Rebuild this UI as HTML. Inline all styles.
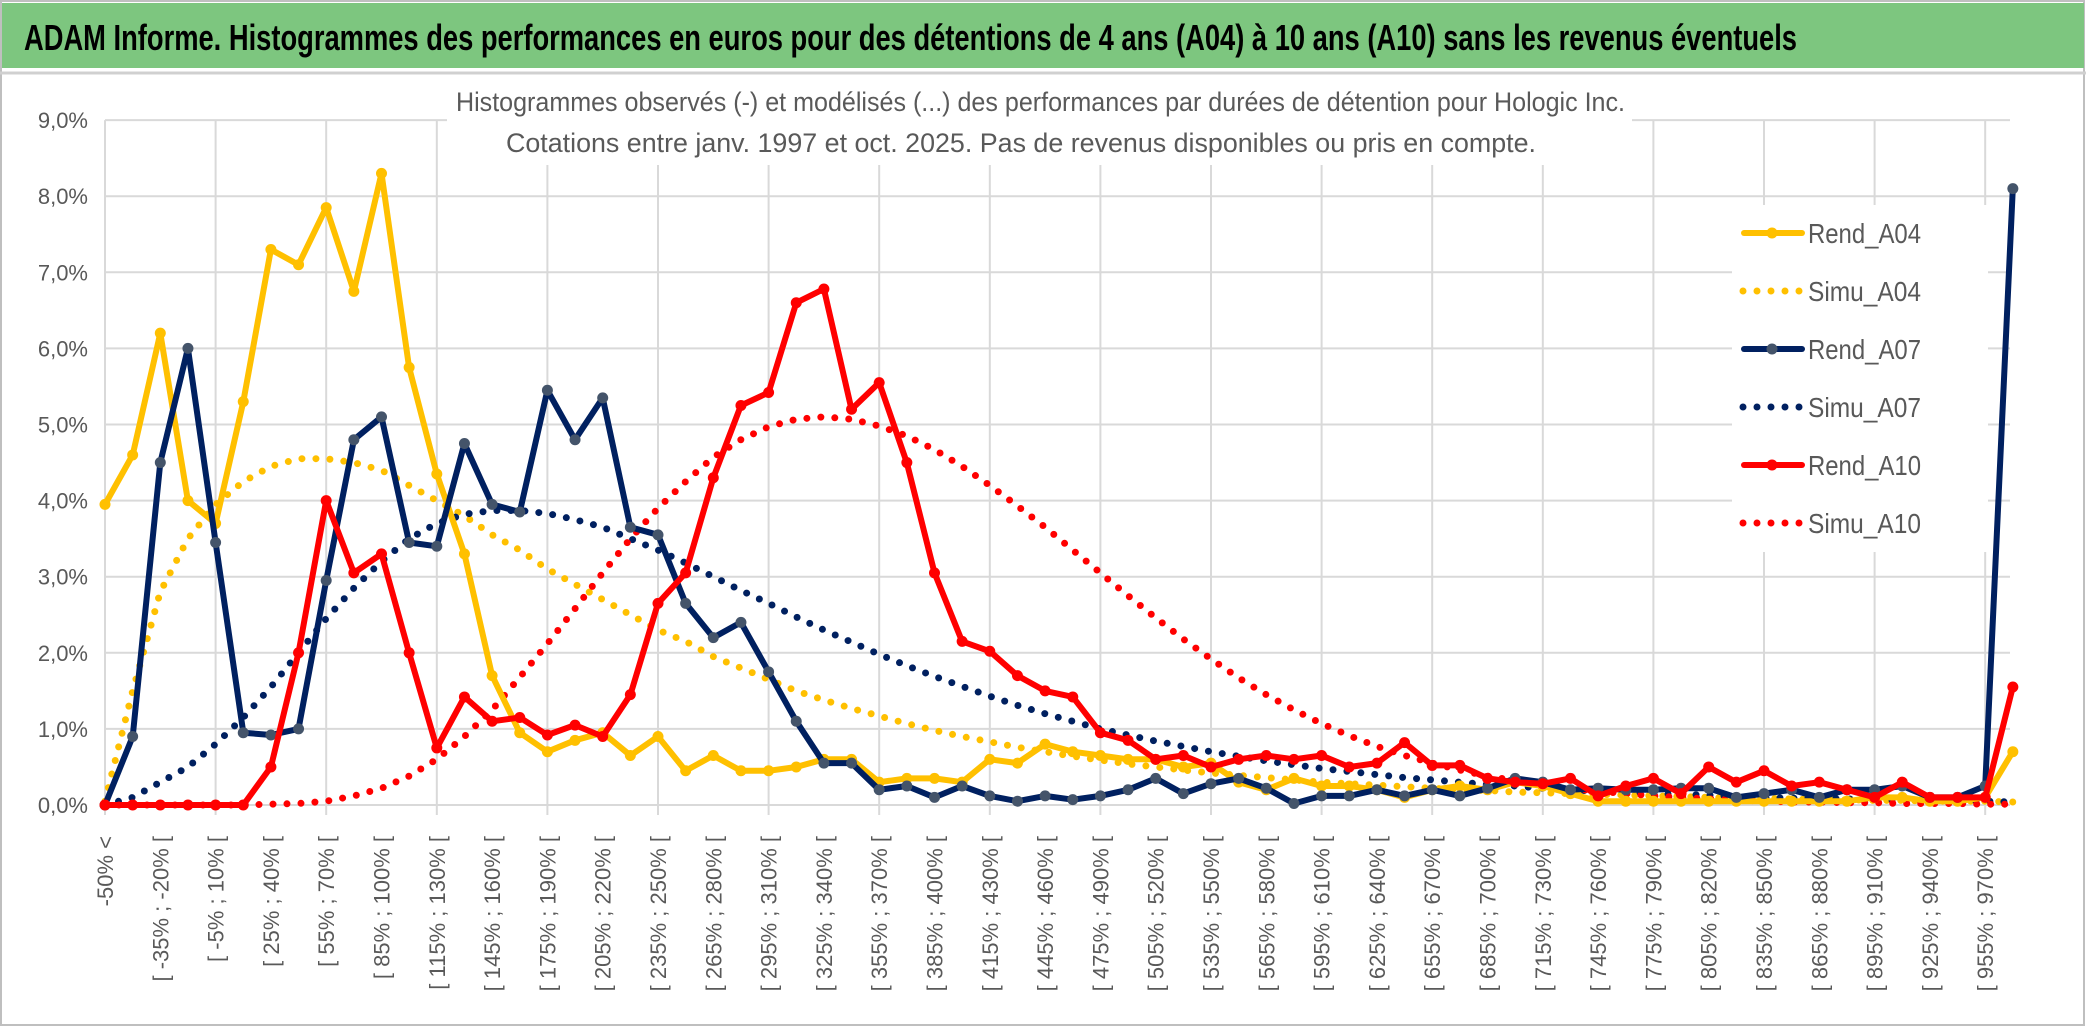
<!DOCTYPE html>
<html><head><meta charset="utf-8"><style>
html,body{margin:0;padding:0;background:#fff;}
svg{display:block;font-family:"Liberation Sans",sans-serif;}
</style></head><body>
<svg id="chart" width="2086" height="1033" viewBox="0 0 2086 1033" xmlns="http://www.w3.org/2000/svg">
<rect x="0" y="0" width="2086" height="1033" fill="#fff"/>
<rect x="1" y="1" width="2083" height="1024" fill="none" stroke="#bfbfbf" stroke-width="2"/>
<rect x="2" y="3" width="2082" height="65" fill="#7dc67f"/>
<line x1="0" y1="73" x2="2086" y2="73" stroke="#d0d0d0" stroke-width="3"/>
<text x="24" y="50" font-size="36" font-weight="bold" fill="#000" textLength="1773" lengthAdjust="spacingAndGlyphs">ADAM Informe. Histogrammes des performances en euros pour des détentions de 4 ans (A04) à 10 ans (A10) sans les revenus éventuels</text>
<g id="grid"></g>
<rect x="447" y="76" width="1185" height="89" fill="#fff"/>
<text x="456" y="111" font-size="27" fill="#595959" textLength="1169" lengthAdjust="spacingAndGlyphs">Histogrammes observés (-) et modélisés (...) des performances par durées de détention pour Hologic Inc.</text>
<text x="506" y="152" font-size="27" fill="#595959" textLength="1030" lengthAdjust="spacingAndGlyphs">Cotations entre janv. 1997 et oct. 2025. Pas de revenus disponibles ou pris en compte.</text>
<g id="yaxis"></g>
<g id="xaxis"></g>
<rect x="1732" y="205" width="256" height="347" fill="#fff"/>
<g id="series"></g>
<g id="legend"></g>
</svg>
<script>
const yTicks = [0,1,2,3,4,5,6,7,8,9];
const seriesNames = ["Rend_A04","Simu_A04","Rend_A07","Simu_A07","Rend_A10","Simu_A10"];
const rendA04 = [3.95,4.6,6.2,4.0,3.7,5.3,7.3,7.1,7.85,6.75,8.3,5.75,4.35,3.3,1.7,0.95,0.7,0.85,0.95,0.65,0.9,0.45,0.65,0.45,0.45,0.5,0.6,0.6,0.3,0.35,0.35,0.3,0.6,0.55,0.8,0.7,0.65,0.6,0.6,0.5,0.55,0.3,0.2,0.35,0.25,0.25,0.2,0.1,0.2,0.25,0.2,0.3,0.25,0.15,0.05,0.05,0.05,0.05,0.05,0.05,0.05,0.05,0.05,0.05,0.1,0.1,0.05,0.05,0.1,0.7];
const simuA04 = [0.05,1.5,2.8,3.5,3.95,4.25,4.45,4.55,4.55,4.5,4.4,4.2,4.0,3.8,3.55,3.35,3.1,2.9,2.7,2.5,2.3,2.15,1.95,1.8,1.65,1.5,1.38,1.27,1.17,1.07,0.98,0.9,0.83,0.76,0.7,0.64,0.59,0.54,0.5,0.46,0.42,0.39,0.36,0.33,0.3,0.28,0.26,0.24,0.22,0.2,0.19,0.17,0.16,0.15,0.14,0.13,0.12,0.11,0.1,0.09,0.09,0.08,0.07,0.07,0.06,0.06,0.05,0.05,0.05,0.04];
const rendA07 = [0,0.9,4.5,6.0,3.45,0.95,0.92,1.0,2.95,4.8,5.1,3.45,3.4,4.75,3.95,3.85,5.45,4.8,5.35,3.65,3.55,2.65,2.2,2.4,1.75,1.1,0.55,0.55,0.2,0.25,0.1,0.25,0.12,0.05,0.12,0.07,0.12,0.2,0.35,0.15,0.28,0.35,0.22,0.02,0.12,0.12,0.2,0.12,0.2,0.12,0.22,0.35,0.3,0.2,0.22,0.2,0.2,0.22,0.22,0.1,0.15,0.2,0.1,0.2,0.2,0.25,0.1,0.1,0.25,8.1];
const simuA07 = [0,0.1,0.3,0.5,0.8,1.15,1.55,2.0,2.45,2.85,3.2,3.5,3.7,3.82,3.87,3.87,3.83,3.75,3.65,3.5,3.35,3.18,3.0,2.82,2.65,2.47,2.3,2.14,1.98,1.83,1.69,1.56,1.43,1.31,1.2,1.1,1.0,0.92,0.84,0.77,0.7,0.64,0.58,0.53,0.48,0.44,0.4,0.36,0.33,0.3,0.27,0.25,0.22,0.2,0.18,0.17,0.15,0.14,0.13,0.11,0.1,0.09,0.09,0.08,0.07,0.06,0.06,0.05,0.05,0.04];
const rendA10 = [0,0,0,0,0,0,0.5,2.0,4.0,3.05,3.3,2.0,0.75,1.42,1.1,1.15,0.92,1.05,0.9,1.45,2.65,3.05,4.3,5.25,5.42,6.6,6.78,5.2,5.55,4.5,3.05,2.15,2.02,1.7,1.5,1.42,0.95,0.85,0.6,0.65,0.5,0.6,0.65,0.6,0.65,0.5,0.55,0.82,0.52,0.52,0.35,0.3,0.28,0.35,0.12,0.25,0.35,0.15,0.5,0.3,0.45,0.25,0.3,0.2,0.1,0.3,0.1,0.1,0.1,1.55];
const simuA10 = [0,0,0,0,0,0,0.01,0.02,0.05,0.12,0.22,0.38,0.6,0.9,1.25,1.68,2.12,2.58,3.05,3.5,3.9,4.25,4.57,4.8,4.97,5.07,5.1,5.07,4.98,4.85,4.67,4.45,4.2,3.93,3.65,3.35,3.05,2.75,2.46,2.18,1.92,1.67,1.45,1.25,1.07,0.91,0.77,0.65,0.55,0.46,0.38,0.32,0.26,0.22,0.18,0.15,0.12,0.1,0.08,0.07,0.05,0.04,0.04,0.03,0.03,0.02,0.02,0.02,0.01,0.01];
const categories = ["-50% <"];
for (let k = 1; k < 70; k++) { const a = -50 + 15*(k-1); categories.push("[ " + a + "% ; " + (a+15) + "% ["); }

const NS = "http://www.w3.org/2000/svg";
const X0 = 105, DX = 27.65, Y0 = 805, DY = 76.1;
function xs(i){ return X0 + i*DX; }
function ys(v){ return Y0 - v*DY; }
function mk(tag, attrs, parent){ const e = document.createElementNS(NS, tag); for (const k in attrs) e.setAttribute(k, attrs[k]); parent.appendChild(e); return e; }

const grid = document.getElementById("grid");
yTicks.forEach(t => {
  const l = mk("line", {x1: X0, x2: 2010, y1: ys(t), y2: ys(t), stroke: "#d9d9d9", "stroke-width": 2}, grid);
  
  
});
for (let i = 0; i < categories.length; i += 4) {
  const l = mk("line", {x1: xs(i), x2: xs(i), y1: ys(9), y2: Y0 + 10, stroke: "#d9d9d9", "stroke-width": 2}, grid);
  
  
}
const yaxis = document.getElementById("yaxis");
yTicks.forEach(t => {
  const tx = mk("text", {x: 88, y: ys(t) + 8, "font-size": 22, fill: "#595959", "text-anchor": "end"}, yaxis);
  tx.textContent = t.toFixed(1).replace(".", ",") + "%";
  
  
});
const xaxis = document.getElementById("xaxis");
categories.forEach((c, i) => {
  if (i % 2) return;
  const tx = mk("text", {x: 0, y: 0, "font-size": 22, fill: "#595959", "text-anchor": "end", transform: "translate(" + (xs(i) + 8) + ",836) rotate(-90)"}, xaxis);
  tx.textContent = c;
  
  
});

const series = document.getElementById("series");
function pts(arr){ return arr.map((v, i) => xs(i).toFixed(1) + "," + ys(v).toFixed(1)).join(" "); }
function dotted(arr, color, name){
  const p = mk("polyline", {points: pts(arr), fill: "none", stroke: color, "stroke-width": 7, "stroke-linecap": "round", "stroke-dasharray": "0 14"}, series);
  
  
}
function solid(arr, color, mcolor, name){
  const p = mk("polyline", {points: pts(arr), fill: "none", stroke: color, "stroke-width": 6, "stroke-linejoin": "round"}, series);
  
  
  arr.forEach((v, i) => {
    const c = mk("circle", {cx: xs(i), cy: ys(v), r: 5.5, fill: mcolor}, series);
    
    
  });
}
dotted(simuA04, "#ffc000", "simu-a04-line");
dotted(simuA07, "#002060", "simu-a07-line");
dotted(simuA10, "#ff0000", "simu-a10-line");
solid(rendA04, "#ffc000", "#ffc000", "rend-a04-line");
solid(rendA07, "#002060", "#44546a", "rend-a07-line");
solid(rendA10, "#ff0000", "#ff0000", "rend-a10-line");

const legend = document.getElementById("legend");
const legColors = ["#ffc000","#ffc000","#002060","#002060","#ff0000","#ff0000"];
const legMark = ["#ffc000",null,"#44546a",null,"#ff0000",null];
seriesNames.forEach((n, k) => {
  const y = 233 + k*58;
  const g = mk("g", {}, legend);
  
  
  if (k % 2 === 0) {
    mk("line", {x1: 1744, x2: 1802, y1: y, y2: y, stroke: legColors[k], "stroke-width": 6, "stroke-linecap": "round"}, g);
    mk("circle", {cx: 1772, cy: y, r: 5.5, fill: legMark[k]}, g);
  } else {
    mk("line", {x1: 1743, x2: 1800, y1: y, y2: y, stroke: legColors[k], "stroke-width": 7, "stroke-linecap": "round", "stroke-dasharray": "0 14"}, g);
  }
  const t = mk("text", {x: 1808, y: y + 10, "font-size": 28, fill: "#595959", textLength: 113, lengthAdjust: "spacingAndGlyphs"}, g);
  t.textContent = n;
});
</script>
</body></html>
